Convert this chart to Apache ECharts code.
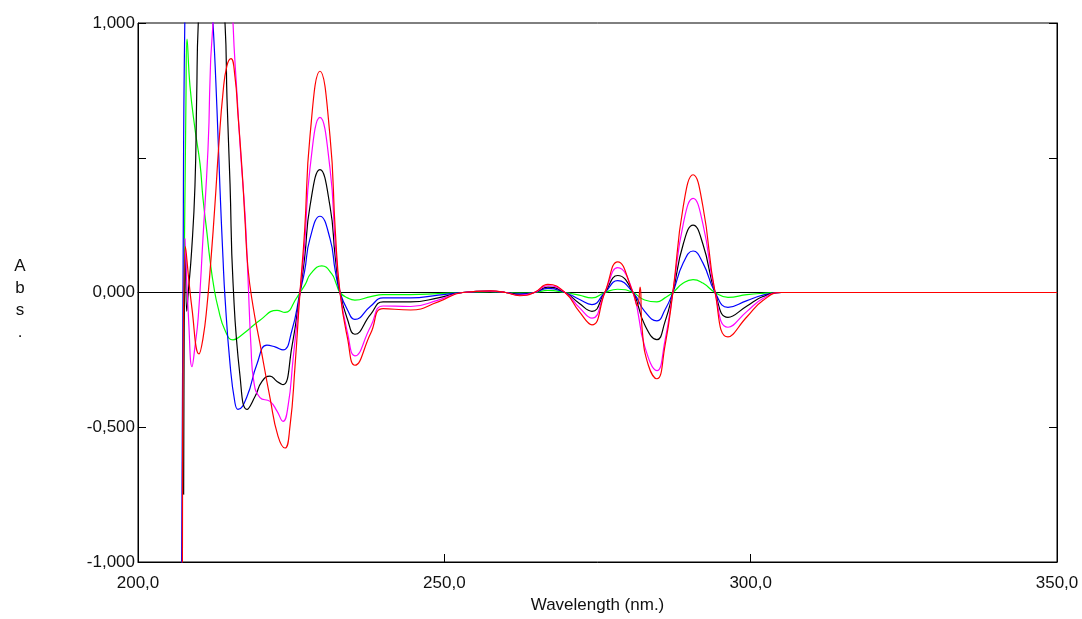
<!DOCTYPE html>
<html>
<head>
<meta charset="utf-8">
<script src="https://cdn.jsdelivr.net/npm/echarts@6/dist/echarts.min.js"></script>
<style>
html,body{margin:0;padding:0;background:#fff;}
#chart{width:1082px;height:619px;}
</style>
</head>
<body>
<div id="chart"></div>
<script>
// ---- data: [wavelength (nm), absorbance] ----
var xTicks = [200, 250, 300, 350];
var yTicks = [-1, -0.5, 0, 0.5, 1];

var greenData = [
  [207.45,-0.1],[207.83,0.72],[208.0,0.94],[208.49,0.765],[209.3,0.607],[210.12,0.478],
  [210.61,0.349],[211.26,0.22],[211.75,0.121],[212.4,0.018],[213.06,-0.055],[214.2,-0.14],
  [215.51,-0.176],[217.14,-0.154],[219.91,-0.103],[222.69,-0.066],[223.99,-0.074],[225.95,-0.018],
  [226.44,0],[227.3,0.03],[228.2,0.07],[230.0,0.099],[231.6,0.07],[232.4,0.03],[232.97,0],
  [234.2,-0.02],[235.4,-0.028],[238.0,-0.015],[240,-0.008],[244.5,-0.008],[249,-0.004],[253,0],
  [257.5,0.003],[260,0],[262.3,-0.002],[264.7,0],[266.9,0.008],[269.7,0],[272,-0.01],[274.1,-0.02],
  [276.2,0],[278.3,0.012],[280.8,0],[282.7,-0.028],[284.7,-0.035],[286.0,-0.02],[287.3,0],
  [289.0,0.035],[290.6,0.048],[292.2,0.035],[294.2,0],[296.3,-0.018],[299.4,-0.008],[302,-0.003],
  [305,0],[350,0]
];

var blueData = [
  [207.1,-1.1],[207.34,0.0],[207.67,1.05],[209.9,1.9],[212.24,1.0],[212.89,0.68],[213.38,0.386],
  [213.87,0.129],[214.2,-0.018],[215.02,-0.265],[215.83,-0.41],[216.32,-0.434],[217.79,-0.386],
  [219.42,-0.265],[221.05,-0.195],[222.36,-0.202],[223.67,-0.213],[225.13,-0.14],[226.44,0],
  [227.2,0.08],[228.07,0.2],[229.7,0.283],[231.34,0.2],[232.2,0.08],[232.97,0],[234.2,-0.065],
  [235.4,-0.1],[238.0,-0.05],[240,-0.02],[244.5,-0.02],[249,-0.01],[253,0],[257.5,0.004],[260,0],
  [262.3,-0.005],[264.7,0],[266.9,0.015],[269.7,0],[272,-0.025],[274.1,-0.045],[276.2,0],
  [278.3,0.044],[280.8,0],[282.7,-0.07],[284.7,-0.105],[286,-0.065],[287.3,0],[289,0.11],
  [290.6,0.154],[292.2,0.11],[294.2,0],[296.3,-0.055],[299.4,-0.03],[302,-0.01],[305,0],[350,0]
];

var blackData = [
  [207.45,-0.75],[207.75,0.16],[207.95,-0.07],[208.2,0.0],[208.75,0.154],[209.3,0.397],
  [209.58,0.728],[209.84,1.0],[211.8,1.7],[214.2,1.0],[214.53,0.717],[215.02,0.404],[215.51,0.037],
  [216.65,-0.31],[217.79,-0.434],[219.1,-0.386],[220.24,-0.33],[221.54,-0.31],[222.69,-0.33],
  [223.67,-0.342],[225.13,-0.2],[226.44,0],[227.2,0.13],[228.07,0.32],[229.7,0.456],[231.34,0.32],
  [232.2,0.13],[232.97,0],[234.2,-0.1],[235.4,-0.155],[238,-0.08],[240,-0.035],[244.5,-0.035],
  [249,-0.02],[253,0],[257.5,0.005],[260,0],[262.3,-0.008],[264.7,0],[266.9,0.02],[269.7,0],
  [272,-0.04],[274.1,-0.07],[276.2,0],[278.3,0.063],[280.8,0],[282.7,-0.12],[284.7,-0.175],
  [286,-0.11],[287.3,0],[289,0.18],[290.6,0.25],[292.2,0.18],[294.2,0],[296.3,-0.092],
  [299.4,-0.05],[302,-0.015],[305,0],[350,0]
];

var magentaData = [
  [207.67,0.2],[208.3,-0.12],[208.81,-0.275],[209.3,-0.2],[209.84,-0.09],[210.6,0.2],[211.42,0.53],
  [212.24,1.0],[214.9,1.5],[215.51,1.0],[216.16,0.735],[216.81,0.496],[217.46,0.294],[217.95,0.055],
  [218.44,-0.2],[218.9,-0.33],[219.91,-0.39],[221.54,-0.404],[222.69,-0.44],[223.67,-0.478],
  [224.5,-0.42],[225.3,-0.25],[226.44,0],[227.2,0.18],[228.07,0.46],[229.7,0.65],[231.34,0.46],
  [232.2,0.18],[232.97,0],[234.2,-0.15],[235.4,-0.235],[238,-0.125],[240,-0.05],[244.5,-0.052],
  [249,-0.028],[253,0],[257.5,0.005],[260,0],[262.3,-0.01],[264.7,0],[266.9,0.025],[269.7,0],
  [272,-0.055],[274.1,-0.095],[276.2,0],[278.3,0.092],[280.8,0],[282.7,-0.2],[284.7,-0.29],
  [286,-0.18],[287.3,0],[289,0.255],[290.6,0.349],[292.2,0.255],[294.2,0],[296.3,-0.129],
  [299.4,-0.07],[302,-0.022],[305,0],[350,0]
];

var redData = [
  [207.25,-1.1],[207.75,0.17],[208.81,-0.06],[209.96,-0.228],[210.61,-0.17],[211.26,-0.05],
  [211.9,0.12],[212.57,0.33],[213.2,0.55],[213.87,0.74],[214.5,0.84],[215.18,0.868],[215.83,0.8],
  [216.32,0.66],[216.97,0.46],[217.46,0.27],[217.95,0.09],[218.77,-0.05],[219.91,-0.19],
  [221.54,-0.39],[222.85,-0.533],[223.99,-0.577],[224.81,-0.496],[225.62,-0.276],[226.44,0],
  [227.2,0.23],[228.07,0.58],[229.7,0.821],[231.34,0.58],[232.2,0.23],[232.97,0],[234.2,-0.17],
  [235.4,-0.27],[238,-0.15],[240,-0.06],[244.5,-0.065],[249,-0.035],[253,0],[257.5,0.006],[260,0],
  [262.3,-0.012],[264.7,0],[266.9,0.03],[269.7,0],[272,-0.07],[274.1,-0.12],[276.2,0],
  [278.3,0.114],[280.8,0],[281.5,-0.05],[281.95,0.02],[282.3,-0.14],[283.3,-0.27],[284.7,-0.32],
  [286,-0.2],[287.3,0],[289,0.32],[290.6,0.437],[292.2,0.32],[294.2,0],[296.3,-0.165],
  [299.4,-0.09],[302,-0.03],[305,0],[350,0]
];

var seriesNames = ['green', 'blue', 'black', 'magenta', 'red'];
var seriesColors = ['#00ff00', '#0000ff', '#000000', '#ff00ff', '#ff0000'];
var seriesData = [greenData, blueData, blackData, magentaData, redData];

var FONT = 'Liberation Sans, Arial, sans-serif';
function comma(v, d) { return v.toFixed(d).replace('.', ','); }

var chart = echarts.init(document.getElementById('chart'), null, {renderer: 'canvas'});
var option = {
  animation: false,
  backgroundColor: '#ffffff',
  grid: {left: 138, right: 25, top: 23, bottom: 52, show: true,
         borderColor: '#000', borderWidth: 1, backgroundColor: 'transparent'},
  xAxis: [{
    type: 'value', min: xTicks[0], max: xTicks[xTicks.length - 1], interval: 50,
    axisLine: {onZero: false, lineStyle: {color: '#000', width: 1}},
    axisTick: {inside: true, length: 8, lineStyle: {color: '#000'}},
    axisLabel: {formatter: function (v) { return comma(v, 1); }, margin: 13,
                color: '#111', fontSize: 17, fontFamily: FONT},
    splitLine: {show: false},
    name: 'Wavelength (nm.)', nameLocation: 'middle', nameGap: 35,
    nameTextStyle: {color: '#111', fontSize: 17, fontFamily: FONT}
  }, {
    type: 'value', min: xTicks[0], max: xTicks[xTicks.length - 1], position: 'top',
    axisLine: {show: true, onZero: true, lineStyle: {color: '#000', width: 1}},
    axisTick: {show: false}, axisLabel: {show: false}, splitLine: {show: false}
  }],
  yAxis: [{
    type: 'value', min: yTicks[0], max: yTicks[yTicks.length - 1], interval: 0.5,
    axisLine: {show: true, onZero: false, lineStyle: {color: '#000'}},
    axisTick: {show: true, inside: true, length: 8, lineStyle: {color: '#000'}},
    axisLabel: {formatter: function (v) { return v === 0.5 ? '' : comma(v, 3); }, margin: 3,
                color: '#111', fontSize: 17, fontFamily: FONT},
    splitLine: {show: false}
  }, {
    type: 'value', min: yTicks[0], max: yTicks[yTicks.length - 1], interval: 0.5, position: 'right',
    axisLine: {show: true, onZero: false, lineStyle: {color: '#000'}},
    axisTick: {show: true, inside: true, length: 8, lineStyle: {color: '#000'}},
    axisLabel: {show: false}, splitLine: {show: false}
  }],
  graphic: [{
    type: 'text', x: 20, y: 255, z: 10,
    style: {text: 'A\nb\ns\n.', font: '17px ' + FONT, fill: '#111', lineHeight: 22,
            align: 'center', textAlign: 'center', verticalAlign: 'top', textVerticalAlign: 'top'}
  }],
  series: seriesData.map(function (d, i) {
    return {
      name: seriesNames[i], type: 'line', data: d, xAxisIndex: 0, yAxisIndex: 0,
      showSymbol: false, symbol: 'none', smooth: 0.5,
      clip: true, z: 2 + i,
      lineStyle: {color: seriesColors[i], width: 1.2},
      itemStyle: {color: seriesColors[i]}
    };
  })
};
chart.setOption(option);
</script>
</body>
</html>
